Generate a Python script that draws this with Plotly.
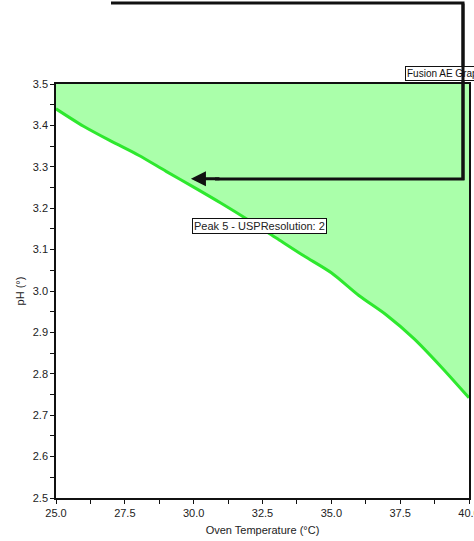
import plotly.graph_objects as go

# Design-space boundary for Peak 5 (USP resolution = 2)
oven_temp = [25, 26, 27, 28, 29, 30, 31, 32, 33, 34, 35, 36, 37, 38, 39, 40]
ph_boundary = [3.440, 3.398, 3.362, 3.328, 3.289, 3.251, 3.212, 3.171,
               3.128, 3.085, 3.044, 2.989, 2.942, 2.885, 2.816, 2.742]

x_range = [25.0, 40.0]
y_range = [2.5, 3.5]

region_label = "Peak 5 - USPResolution: 2"
graph_label = "Fusion AE Graph"

# Arrow target on the boundary
arrow_x, arrow_y = 29.9, 3.271

W, H = 474, 541
L, R, T, B = 56, 5, 84, 43
pw, ph = W - L - R, H - T - B


def px(xp):
    return (xp - L) / pw


def py(yp):
    return (H - B - yp) / ph


font = dict(family="Arial, Liberation Sans, sans-serif", size=11, color="#222222")

fig = go.Figure()

# Upper edge of the region (top of the pH range)
fig.add_trace(go.Scatter(
    x=oven_temp, y=[y_range[1]] * len(oven_temp), mode="lines",
    line=dict(width=0, color="rgba(0,0,0,0)"),
    hoverinfo="skip", showlegend=False,
))

# Boundary line, shaded up to the top edge
fig.add_trace(go.Scatter(
    x=oven_temp, y=ph_boundary, mode="lines",
    fill="tonexty", fillcolor="#aaffaa",
    line=dict(color="#2ee82e", width=3, shape="spline", smoothing=0.8),
    showlegend=False,
))

# Leader line from the top of the page into the region
fig.add_shape(
    type="path", xref="paper", yref="paper", layer="above",
    path=f"M {px(111)},{py(3)} L {px(463)},{py(3)} L {px(463)},{py(179)} L {px(215)},{py(179)}",
    line=dict(color="#111111", width=3),
)

annotations = [
    dict(x=arrow_x, y=arrow_y, xref="x", yref="y", ax=30, ay=0,
         showarrow=True, arrowhead=2, arrowsize=1, arrowwidth=3,
         arrowcolor="#111111", text=""),
    dict(x=px(192), y=py(218), xref="paper", yref="paper",
         xanchor="left", yanchor="top", showarrow=False,
         text=region_label, font=font, bgcolor="white",
         bordercolor="#111111", borderwidth=1, borderpad=1),
    dict(x=px(405), y=py(66), xref="paper", yref="paper",
         xanchor="left", yanchor="top", showarrow=False,
         text=graph_label, font=dict(family=font["family"], size=10, color="#111111"),
         bgcolor="white", bordercolor="#111111", borderwidth=1, borderpad=1),
    # vertical part of the leader, drawn over the graph label box
    dict(x=px(463), y=py(180), xref="paper", yref="paper",
         axref="pixel", ayref="pixel", ax=0, ay=-178,
         showarrow=True, arrowhead=0, arrowwidth=3, arrowcolor="#111111",
         standoff=0, startstandoff=0, text=""),
]

axis_common = dict(
    showgrid=False, zeroline=False, showline=True, linecolor="#111111",
    linewidth=1.5, mirror=True, ticks="outside", ticklen=4, tickcolor="#111111",
    tickfont=font, tickformat=".1f", ticklabeloverflow="allow", automargin=False,
)

fig.update_layout(
    width=W, height=H,
    margin=dict(l=L, r=R, t=T, b=B, pad=0, autoexpand=False),
    paper_bgcolor="white", plot_bgcolor="white",
    font=font,
    annotations=annotations,
    xaxis=dict(
        range=x_range, dtick=2.5, tick0=25,
        minor=dict(dtick=1.25, ticklen=4, tickcolor="#111111", ticks="outside"),
        title=dict(text="Oven Temperature (°C)", font=font, standoff=8),
        **axis_common,
    ),
    yaxis=dict(
        range=y_range, dtick=0.1, tick0=2.5,
        minor=dict(dtick=0.05, ticklen=4, tickcolor="#111111", ticks="outside"),
        title=dict(text="pH (°)", font=font, standoff=6),
        **axis_common,
    ),
)

fig.write_html("out.html")
